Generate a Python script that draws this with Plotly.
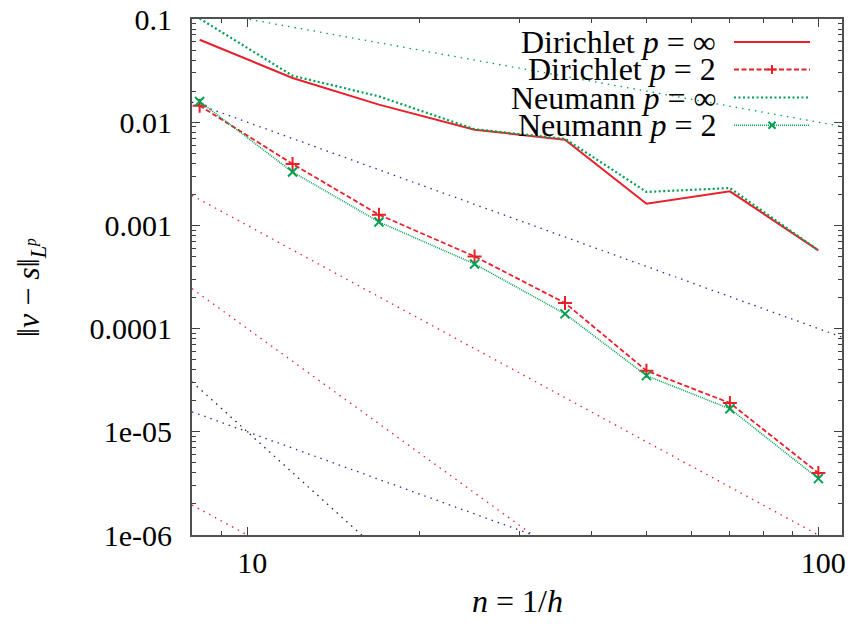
import plotly.graph_objects as go

# ---- data ----
n_vals = [8.25, 12, 17, 25, 36, 50, 70, 100]
dirichlet_inf = [0.0630, 0.0268, 0.0148, 0.00846, 0.00677, 0.00162, 0.00214, 0.000573]
dirichlet_2 = [0.01445, 0.00394, 0.00127, 0.000501, 0.000177, 3.91e-5, 1.90e-5, 3.99e-6]
neumann_inf = [0.101, 0.0282, 0.0178, 0.00855, 0.00690, 0.00211, 0.00230, 0.000573]
neumann_2 = [0.0159, 0.00329, 0.00108, 0.000423, 0.000139, 3.50e-5, 1.67e-5, 3.52e-6]

# reference slope lines: value at n = 10 and slope in log-log
ref_x = [8, 110]
ref_slope = [-1, -2, -3, -4, -5, -2, -3]
ref_at10 = [0.1, 0.01, 1e-3, 1e-4, 1e-5, 1e-5, 1e-6]

y_tickvals = [1e-6, 1e-5, 1e-4, 1e-3, 1e-2, 1e-1]
y_ticktext = ["1e-06", "1e-05", "0.0001", "0.001", "0.01", "0.1"]
x_tickvals = [10, 100]
x_ticktext = ["10", "100"]

legend_labels = ["Dirichlet <i>p</i> = ∞", "Dirichlet <i>p</i> = 2",
                 "Neumann <i>p</i> = ∞", "Neumann <i>p</i> = 2"]

RED = "#e8202a"
GREEN = "#00a050"
BLUE = "#2b2b9c"
BLACK = "#222222"
ref_color = [GREEN, BLUE, RED, RED, BLACK, BLUE, RED]

FONT = "Liberation Serif"
FS = 30
FS_TXT = 32

fig = go.Figure()

for s, a, c in zip(ref_slope, ref_at10, ref_color):
    ys = [a * (x / 10.0) ** s for x in ref_x]
    fig.add_trace(go.Scatter(x=ref_x, y=ys, mode="lines",
                             line=dict(color=c, width=1.3, dash="1.5px,5px"),
                             showlegend=False, hoverinfo="skip"))

fig.add_trace(go.Scatter(x=n_vals, y=dirichlet_inf, mode="lines",
                         line=dict(color=RED, width=2), showlegend=False))
fig.add_trace(go.Scatter(x=n_vals, y=dirichlet_2, mode="lines+markers",
                         line=dict(color=RED, width=1.8, dash="5px,2.5px"),
                         marker=dict(symbol="cross-thin", size=10,
                                     line=dict(color=RED, width=2)),
                         showlegend=False))
fig.add_trace(go.Scatter(x=n_vals, y=neumann_inf, mode="lines",
                         line=dict(color=GREEN, width=2.2, dash="2px,2.5px"),
                         showlegend=False))
fig.add_trace(go.Scatter(x=n_vals, y=neumann_2, mode="lines+markers",
                         line=dict(color=GREEN, width=1.5, dash="1px,1px"),
                         marker=dict(symbol="x-thin", size=9,
                                     line=dict(color=GREEN, width=2)),
                         showlegend=False))

FIG_W, FIG_H = 849, 625
ML, MT, MR, MB = 192, 19, 7, 90
W, H = 650.0, 516.0
def px(p):
    return (p - 192) / W
def py(p):
    return (535 - p) / H

rows = [42, 69.5, 97.5, 125.3]
styles = [dict(color=RED, width=2, dash="solid"),
          dict(color=RED, width=1.8, dash="5px,2.5px"),
          dict(color=GREEN, width=2.2, dash="2px,2.5px"),
          dict(color=GREEN, width=1.5, dash="1px,1px")]
annotations = []
shapes = []
for lab, r, st in zip(legend_labels, rows, styles):
    annotations.append(dict(x=px(718), y=py(r), xref="paper", yref="paper",
                            text=lab, showarrow=False, xanchor="right",
                            yanchor="middle",
                            font=dict(family=FONT, size=FS_TXT, color="black")))
    shapes.append(dict(type="line", xref="paper", yref="paper",
                       x0=px(734), x1=px(810), y0=py(r), y1=py(r), line=st))
mx = 772
r = rows[1]
shapes.append(dict(type="line", xref="paper", yref="paper", x0=px(mx - 4.5), x1=px(mx + 4.5),
                   y0=py(r), y1=py(r), line=dict(color=RED, width=2)))
shapes.append(dict(type="line", xref="paper", yref="paper", x0=px(mx), x1=px(mx),
                   y0=py(r - 4.5), y1=py(r + 4.5), line=dict(color=RED, width=2)))
r = rows[3]
shapes.append(dict(type="line", xref="paper", yref="paper", x0=px(mx - 3.5), x1=px(mx + 3.5),
                   y0=py(r - 3.5), y1=py(r + 3.5), line=dict(color=GREEN, width=2)))
shapes.append(dict(type="line", xref="paper", yref="paper", x0=px(mx - 3.5), x1=px(mx + 3.5),
                   y0=py(r + 3.5), y1=py(r - 3.5), line=dict(color=GREEN, width=2)))

annotations.append(dict(x=px(517), y=py(601), xref="paper", yref="paper",
                        text="<i>n</i> = 1/<i>h</i>", showarrow=False,
                        xanchor="center", yanchor="middle",
                        font=dict(family=FONT, size=FS_TXT, color="black")))
annotations.append(dict(x=px(30), y=py(288), xref="paper", yref="paper",
                        text="‖<i>v</i> − <i>s</i>‖<sub><i>L</i><sup><i>p</i></sup></sub>",
                        showarrow=False, textangle=-90,
                        xanchor="center", yanchor="middle",
                        font=dict(family=FONT, size=FS_TXT, color="black")))

x_minor = [9, 20, 30, 40, 50, 60, 70, 80, 90]
y_minor = [k * 10.0 ** e for e in range(-6, -1) for k in range(2, 10)]

axis_common = dict(showline=True, linecolor="#505050", linewidth=2, mirror="allticks",
                   ticks="inside", ticklen=8, tickwidth=1.2, tickcolor="#404040",
                   showgrid=False, zeroline=False, automargin=False,
                   ticklabeloverflow="allow",
                   tickfont=dict(family=FONT, size=FS, color="black"))

fig.update_layout(
    width=FIG_W, height=FIG_H,
    margin=dict(l=ML, r=MR, t=MT, b=MB, autoexpand=False),
    paper_bgcolor="white", plot_bgcolor="white",
    font=dict(family=FONT, size=FS, color="black"),
    xaxis=dict(type="log", range=[0.90309, 2.04139],
               tickmode="array", tickvals=x_tickvals, ticktext=x_ticktext,
               minor=dict(tickmode="array", tickvals=x_minor, ticks="inside",
                          ticklen=4, tickcolor="#404040", showgrid=False),
               ticklabelshift=5, ticklabelstandoff=0,
               **axis_common),
    yaxis=dict(type="log", range=[-6, -1],
               tickmode="array", tickvals=y_tickvals, ticktext=y_ticktext,
               minor=dict(tickmode="array", tickvals=y_minor, ticks="inside",
                          ticklen=4, tickcolor="#404040", showgrid=False),
               ticklabelstandoff=12,
               **axis_common),
    annotations=annotations,
    shapes=shapes,
    showlegend=False,
)

fig.write_html("out.html",
               config={"displayModeBar": False},
               post_script="document.body.style.margin='0';"
                           "document.body.style.overflow='hidden';")
